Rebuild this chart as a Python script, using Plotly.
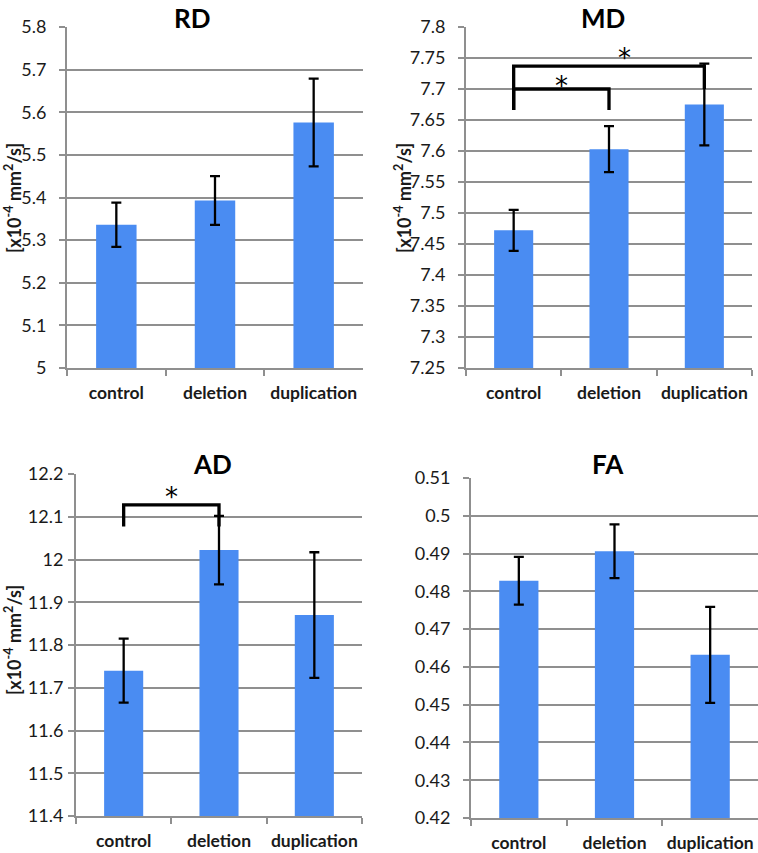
import plotly.graph_objects as go

categories = ["control", "deletion", "duplication"]

rd_mean = [5.336, 5.393, 5.576]
rd_err = [0.052, 0.057, 0.103]
md_mean = [7.472, 7.603, 7.675]
md_err = [0.033, 0.037, 0.066]
ad_mean = [11.740, 12.022, 11.870]
ad_err = [0.075, 0.080, 0.147]
fa_mean = [0.4828, 0.4906, 0.4632]
fa_err = [0.0063, 0.0071, 0.0127]

rd_ticks = [5.0, 5.1, 5.2, 5.3, 5.4, 5.5, 5.6, 5.7, 5.8]
rd_text = ["5", "5.1", "5.2", "5.3", "5.4", "5.5", "5.6", "5.7", "5.8"]
md_ticks = [7.25, 7.3, 7.35, 7.4, 7.45, 7.5, 7.55, 7.6, 7.65, 7.7, 7.75, 7.8]
md_text = ["7.25", "7.3", "7.35", "7.4", "7.45", "7.5", "7.55", "7.6", "7.65", "7.7", "7.75", "7.8"]
ad_ticks = [11.4, 11.5, 11.6, 11.7, 11.8, 11.9, 12.0, 12.1, 12.2]
ad_text = ["11.4", "11.5", "11.6", "11.7", "11.8", "11.9", "12", "12.1", "12.2"]
fa_ticks = [0.42, 0.43, 0.44, 0.45, 0.46, 0.47, 0.48, 0.49, 0.50, 0.51]
fa_text = ["0.42", "0.43", "0.44", "0.45", "0.46", "0.47", "0.48", "0.49", "0.5", "0.51"]

# significance brackets (x categories, y values in data units)
md_bracket_x = [["control", "control", "deletion", "deletion"],
                ["control", "control", "duplication", "duplication"]]
md_bracket_y = [[7.666, 7.700, 7.700, 7.666],
                [7.666, 7.737, 7.737, 7.700]]
md_star_x = [0.5, 1.167]
md_star_y = [7.711, 7.756]
ad_bracket_x = [["control", "control", "deletion", "deletion"]]
ad_bracket_y = [[12.077, 12.128, 12.128, 12.077]]
ad_star_x = [0.5]
ad_star_y = [12.156]

W, H = 758, 853
BAR = "#4A8CF2"
GRID = "#8F8F8F"
FONT = "Lato"
TXT = "#1a1a1a"

panels = [
    # name, mean, err, ticks, text, range, xdom px, ydom px (top,bottom)
    ("RD", rd_mean, rd_err, rd_ticks, rd_text, [5.0, 5.8], (67, 363), (27, 368)),
    ("MD", md_mean, md_err, md_ticks, md_text, [7.25, 7.8], (466, 752), (27, 368)),
    ("AD", ad_mean, ad_err, ad_ticks, ad_text, [11.4, 12.2], (76, 362), (474, 816)),
    ("FA", fa_mean, fa_err, fa_ticks, fa_text, [0.42, 0.51], (471, 758), (478, 818)),
]

fig = go.Figure()
layout = dict(width=W, height=H,
              margin=dict(l=0, r=0, t=0, b=0, pad=0, autoexpand=False),
              paper_bgcolor="white", plot_bgcolor="white", showlegend=False,
              bargap=0.59, font=dict(family=FONT, color=TXT))
annotations = []

for i, (name, mean, err, ticks, text, rng, xd, yd) in enumerate(panels):
    n = "" if i == 0 else str(i + 1)
    xa, ya = "x" + n, "y" + n
    fig.add_trace(go.Bar(x=categories, y=mean, xaxis=xa, yaxis=ya,
                         marker=dict(color=BAR, line=dict(width=0)),
                         error_y=dict(type="data", array=err, color="black",
                                      thickness=2.3, width=5)))
    layout["xaxis" + n] = dict(domain=[xd[0] / W, xd[1] / W], anchor=ya,
                               type="category", showgrid=False, showline=True,
                               linecolor=GRID, linewidth=2, ticks="outside",
                               tickson="boundaries", ticklen=6, tickwidth=2,
                               tickcolor=GRID, tickangle=0,
                               tickfont=dict(family=FONT, size=17.5, color=TXT,
                                             weight="bold"),
                               ticklabelstandoff=8, fixedrange=True)
    layout["yaxis" + n] = dict(domain=[1 - yd[1] / H, 1 - yd[0] / H], anchor=xa,
                               range=rng, tickvals=ticks, ticktext=text,
                               showgrid=True, gridcolor=GRID, gridwidth=2,
                               showline=True, linecolor=GRID, linewidth=2,
                               zeroline=False, ticks="outside", ticklen=6,
                               tickwidth=2, tickcolor=GRID,
                               tickfont=dict(family=FONT, size=18, color=TXT),
                               ticklabelstandoff=(1 if name == "AD" else 9),
                               fixedrange=True)

# brackets
def add_brackets(bx, by, xa, ya):
    for x, y in zip(bx, by):
        fig.add_trace(go.Scatter(x=x, y=y, xaxis=xa, yaxis=ya, mode="lines",
                                 line=dict(color="black", width=3.3),
                                 hoverinfo="skip"))

add_brackets(md_bracket_x, md_bracket_y, "x2", "y2")
add_brackets(ad_bracket_x, ad_bracket_y, "x3", "y3")

STAR = dict(family="DejaVu Sans", size=26, color="black")
for sx, sy in zip(md_star_x, md_star_y):
    annotations.append(dict(x=sx, y=sy, xref="x2", yref="y2", text="*",
                            showarrow=False, font=STAR, yshift=-4))
for sx, sy in zip(ad_star_x, ad_star_y):
    annotations.append(dict(x=sx, y=sy, xref="x3", yref="y3", text="*",
                            showarrow=False, font=STAR, yshift=-4))

# panel titles (top-anchored boxes)
titles = [("RD", 192, 0), ("MD", 603, 0), ("AD", 212, 446), ("FA", 608, 446)]
for t, px, py in titles:
    annotations.append(dict(x=px / W, y=1 - py / H, xref="paper", yref="paper",
                            text="<b>" + t + "</b>", showarrow=False,
                            xanchor="center", yanchor="top",
                            font=dict(family=FONT, size=26, color="black",
                                      weight="bold")))

# y-axis titles
ytitle = "<b>[x10<sup>-4</sup> mm<sup>2</sup>/s]</b>"
for px, py in [(13, 198), (403, 198), (13, 640)]:
    annotations.append(dict(x=px / W, y=1 - py / H, xref="paper", yref="paper",
                            text=ytitle, showarrow=False, textangle=-90,
                            xanchor="center", yanchor="middle",
                            font=dict(family=FONT, size=18, color=TXT,
                                      weight="bold")))

layout["annotations"] = annotations
fig.update_layout(**layout)
fig.write_html("out.html", config={"displayModeBar": False},
               post_script="document.body.style.margin='0';"
                           "document.body.style.padding='0';")
